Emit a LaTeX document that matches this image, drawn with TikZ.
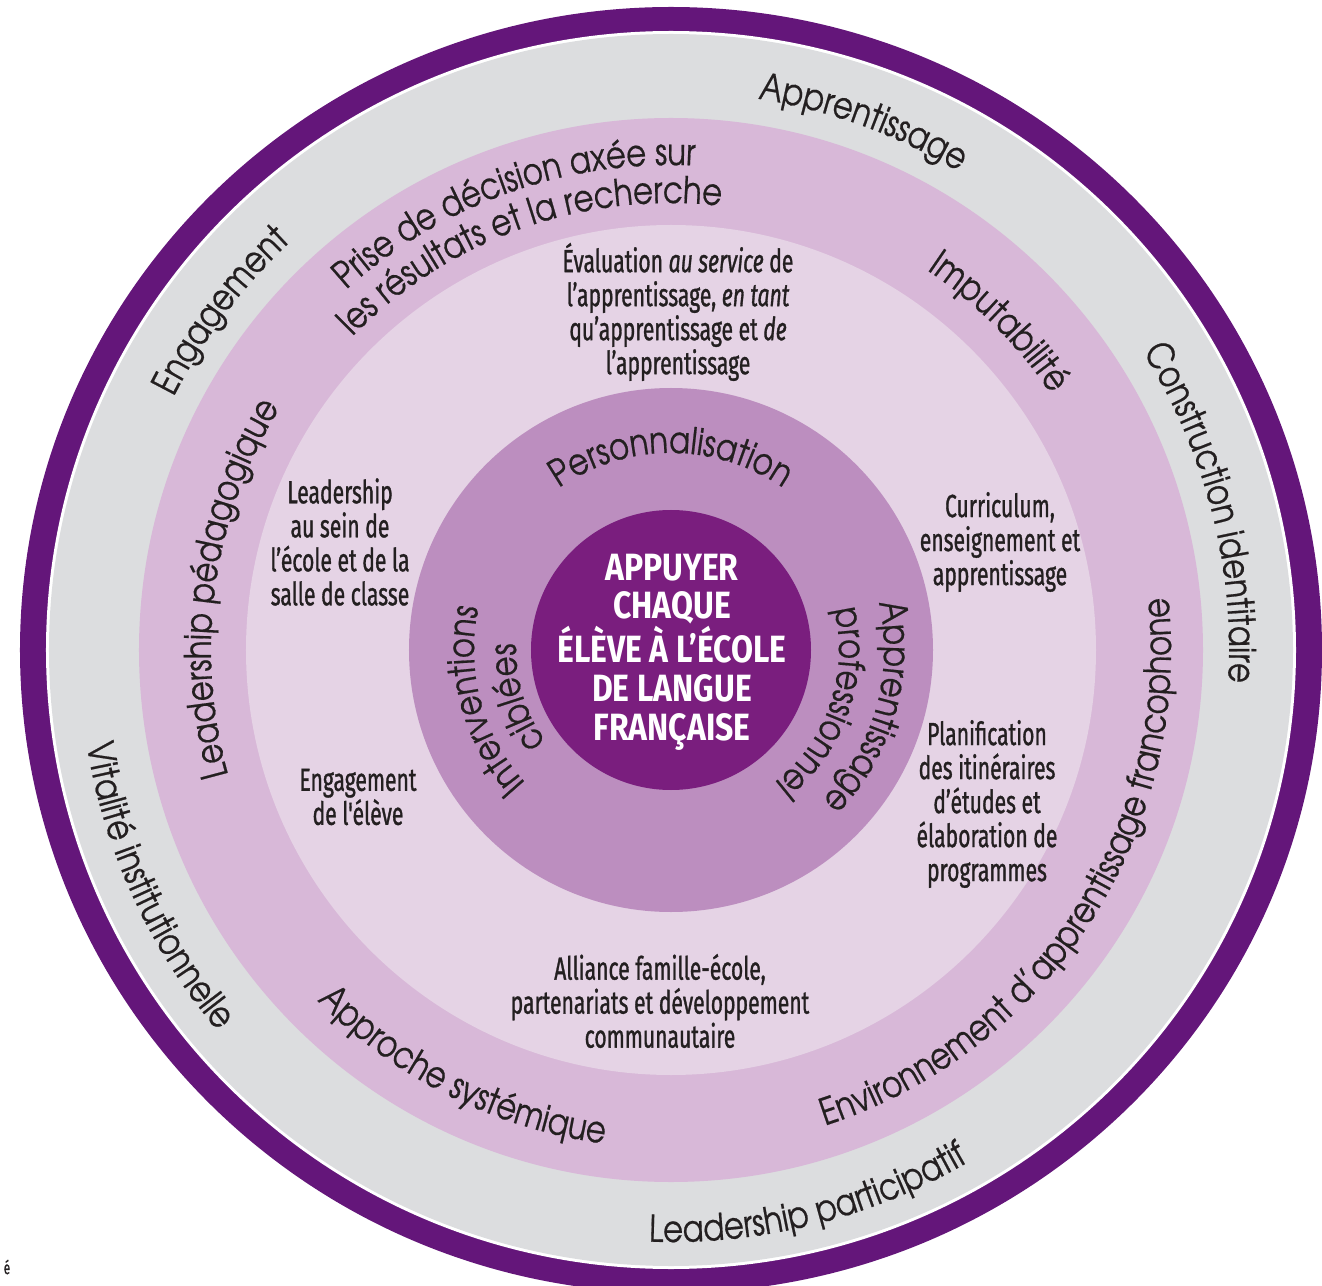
\documentclass[tikz,border=0pt]{standalone}
\usepackage{fontspec}
\usetikzlibrary{decorations.text}
\newfontfamily\ringfont[FakeStretch=0.83,FakeBold=0.5]{TeX Gyre Adventor}
\newfontfamily\condfont[FakeStretch=0.66,FakeBold=1]{Fira Sans}
\newfontfamily\centerfont[FakeStretch=0.84]{Fira Sans}
\definecolor{ringpurple}{RGB}{100,22,122}
\definecolor{ringgray}{RGB}{220,221,223}
\definecolor{ringpink}{RGB}{216,184,216}
\definecolor{ringlight}{RGB}{229,211,229}
\definecolor{ringmed}{RGB}{188,142,191}
\definecolor{ringdark}{RGB}{122,30,126}
\definecolor{inktext}{RGB}{35,31,32}
\newcommand{\rf}{|\ringfont\fontsize{18.5}{20}\selectfont\color{inktext}|}
\newcommand{\cwlabel}[4]{%
  \path[decorate,decoration={text along path,text align=center,text={#4}}]
    ({#1+#3}:#2) arc[start angle={#1+#3}, end angle={#1-#3}, radius=#2];}
\newcommand{\ccwlabel}[4]{%
  \path[decorate,decoration={text along path,text align=center,text={#4}}]
    ({#1-#3}:#2) arc[start angle={#1-#3}, end angle={#1+#3}, radius=#2];}
\tikzset{
  condtext/.style={font=\condfont\fontsize{16}{17}\selectfont, text=inktext, align=center, inner sep=0pt},
  centertext/.style={font=\centerfont\bfseries\fontsize{19}{19.4}\selectfont, text=white, align=center, inner sep=0pt}
}
\begin{document}
\begin{tikzpicture}[x=0.5pt,y=0.5pt]
\useasboundingbox (-671,-635) rectangle (651,650);
% rings
\fill[ringpurple] (0,0) ellipse [x radius=651, y radius=643];
\fill[white] (0,0) ellipse [x radius=625, y radius=619];
\fill[ringgray] (0,0) ellipse [x radius=622, y radius=616];
\fill[ringpink] (0,0) circle [radius=532];
\fill[ringlight] (0,0) circle [radius=425];
\fill[ringmed] (0,0) circle [radius=262];
\fill[ringdark] (0,0) circle [radius=140];
% outer gray ring
\cwlabel{70}{558}{60}{\rf Apprentissage}
\cwlabel{143}{558}{60}{\rf Engagement}
\cwlabel{14.5}{558}{60}{\rf Construction identitaire}
\ccwlabel{204.6}{592}{60}{\rf Vitalité institutionnelle}
\ccwlabel{284}{592}{60}{\rf Leadership participatif}
% pink ring
\cwlabel{109.6}{485}{70}{\rf Prise de décision axée sur}
\cwlabel{109.5}{447}{70}{\rf les résultats et la recherche}
\cwlabel{45}{458}{60}{\rf Imputabilité}
\cwlabel{172}{460}{60}{\rf Leadership pédagogique}
\ccwlabel{243.5}{498}{60}{\rf Approche systémique}
\ccwlabel{327}{500}{80}{\rf Environnement d’apprentissage francophone}
% medium ring
\cwlabel{90}{197}{75}{\rf Personnalisation}
\cwlabel{195}{197}{75}{\rf Interventions}
\cwlabel{197}{155}{75}{\rf ciblées}
\cwlabel{-16}{213}{75}{\rf Apprentissage}
\cwlabel{-19}{168}{75}{\rf professionnel}
% light ring texts
\node[condtext] (eval) at (7,338) {Évaluation \textit{au service} de\\l’apprentissage, \textit{en tant}\\qu’apprentissage et \textit{de}\\l’apprentissage};
\node[condtext] (leadecole) at (-331,108) {Leadership\\au sein de\\l’école et de la\\salle de classe};
\node[condtext] (curri) at (329,108) {Curriculum,\\enseignement et\\apprentissage};
\node[condtext] (engeleve) at (-313,-147) {Engagement\\de l'élève};
\node[condtext] (planif) at (316,-154) {Planification\\des itinéraires\\d’études et\\élaboration de\\programmes};
\node[condtext] (alliance) at (-11,-351) {Alliance famille-école,\\partenariats et développement\\communautaire};
% centre
\node[centertext] (centre) at (1,-2) {APPUYER\\CHAQUE\\ÉLÈVE À L’ÉCOLE\\DE LANGUE\\FRANÇAISE};
% stray glyph at lower left
\node[font=\condfont\fontsize{9}{10}\selectfont, text=inktext, inner sep=0pt] (stray) at (-664,-617) {é};
\end{tikzpicture}
\end{document}
